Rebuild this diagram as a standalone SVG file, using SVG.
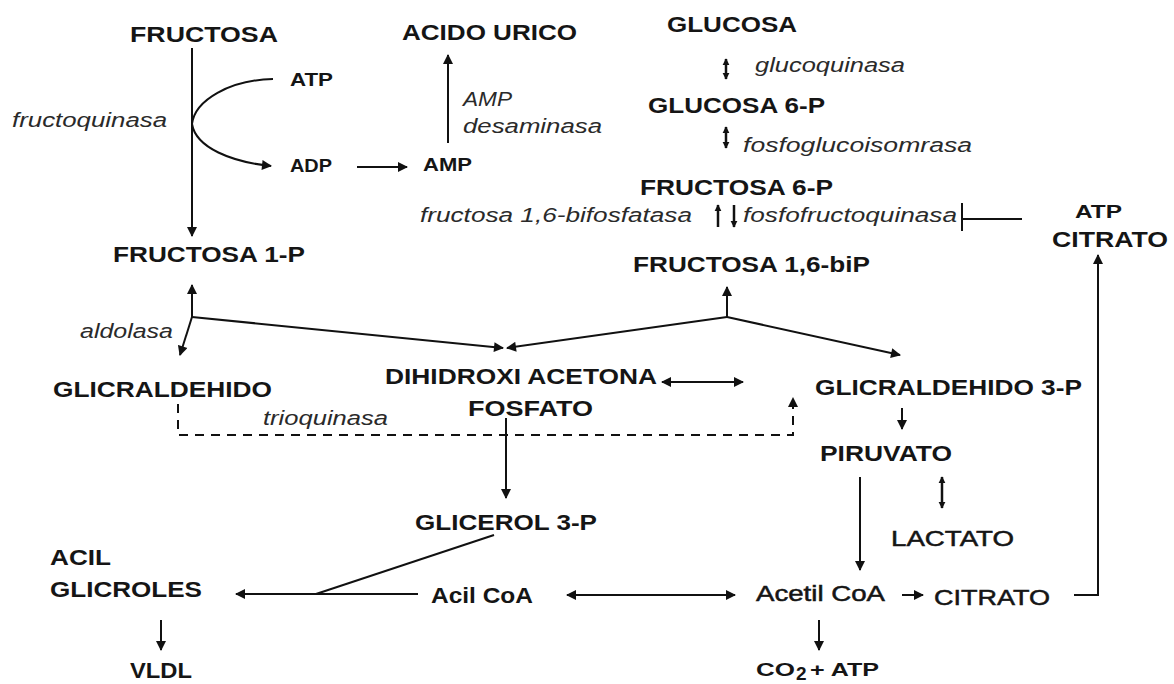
<svg xmlns="http://www.w3.org/2000/svg" width="1174" height="684" viewBox="0 0 1174 684">
<defs>
<marker id="ah" viewBox="0 0 10 10" refX="9" refY="5" markerWidth="11" markerHeight="10" markerUnits="userSpaceOnUse" orient="auto-start-reverse">
<path d="M0,0 L10,5 L0,10 z" fill="#111"/>
</marker>
<marker id="sm" viewBox="0 0 10 10" refX="9" refY="5" markerWidth="7" markerHeight="8" markerUnits="userSpaceOnUse" orient="auto-start-reverse">
<path d="M0,0 L10,5 L0,10 z" fill="#111"/>
</marker>
<style>
.b{font-family:"Liberation Sans",Arial,sans-serif;font-weight:bold;font-size:22px;fill:#151515}
.s{font-family:"Liberation Sans",Arial,sans-serif;font-weight:bold;font-size:19px;fill:#151515}
.n{font-family:"Liberation Sans",Arial,sans-serif;font-weight:normal;font-size:22px;fill:#151515;stroke:#151515;stroke-width:0.5}
.i{font-family:"Liberation Sans",Arial,sans-serif;font-style:italic;font-size:20px;fill:#2a2a2a}
.ln{fill:none;stroke:#111;stroke-width:2}
.ar{fill:none;stroke:#111;stroke-width:2;marker-end:url(#ah)}
.da{fill:none;stroke:#111;stroke-width:2;marker-end:url(#ah);marker-start:url(#ah)}
.sd{fill:none;stroke:#111;stroke-width:2.5;marker-end:url(#sm);marker-start:url(#sm)}
.sa{fill:none;stroke:#111;stroke-width:2.5;marker-end:url(#sm)}
.dash{fill:none;stroke:#111;stroke-width:2;stroke-dasharray:9,7;marker-end:url(#ah)}
</style>
</defs>
<rect width="1174" height="684" fill="#ffffff"/>
<g id="connectors">
<line class="ar" x1="192" y1="48" x2="192" y2="236"/>
<path class="ar" d="M273,79 C230,80 195,100 192,124 C196,148 232,162 271,166"/>
<line class="ar" x1="357" y1="167" x2="407" y2="167"/>
<line class="ar" x1="448" y1="143" x2="448" y2="55"/>
<line class="sd" x1="726" y1="59" x2="726" y2="79"/>
<line class="sd" x1="726" y1="127" x2="726" y2="148"/>
<line class="sa" x1="718" y1="227" x2="718" y2="205"/>
<line class="sa" x1="734" y1="205" x2="734" y2="227"/>
<line class="ln" x1="962" y1="203" x2="962" y2="231"/>
<line class="ln" x1="962" y1="219" x2="1022" y2="219"/>
<polyline class="ar" points="1074,595 1098,595 1098,255"/>
<line class="ar" x1="192" y1="317" x2="192" y2="285"/>
<line class="ar" x1="192" y1="317" x2="180" y2="355"/>
<line class="ar" x1="192" y1="317" x2="503" y2="348"/>
<line class="ar" x1="727" y1="317" x2="727" y2="287"/>
<line class="ar" x1="727" y1="317" x2="507" y2="348"/>
<line class="ar" x1="727" y1="317" x2="900" y2="355"/>
<line class="da" x1="662" y1="382" x2="743" y2="382"/>
<path class="dash" d="M178,404 V435 H793 V398"/>
<line class="ar" x1="902" y1="408" x2="902" y2="429"/>
<line class="ar" x1="506" y1="418" x2="506" y2="498"/>
<line class="ar" x1="860" y1="477" x2="860" y2="570"/>
<line class="sd" x1="942" y1="477" x2="942" y2="508"/>
<line class="da" x1="567" y1="595" x2="735" y2="595"/>
<line class="ar" x1="418" y1="594" x2="236" y2="594"/>
<line class="ln" x1="494" y1="535" x2="316" y2="594"/>
<line class="ar" x1="161" y1="620" x2="161" y2="650"/>
<line class="ar" x1="902" y1="595" x2="923" y2="595"/>
<line class="ar" x1="819" y1="620" x2="819" y2="650"/>
</g>
<g id="fructosa"><text class="b" x="130" y="42" textLength="148" lengthAdjust="spacingAndGlyphs">FRUCTOSA</text></g>
<g id="atp-top"><text class="s" x="290" y="86" textLength="43" lengthAdjust="spacingAndGlyphs">ATP</text></g>
<g id="adp"><text class="s" x="290" y="172" textLength="42" lengthAdjust="spacingAndGlyphs">ADP</text></g>
<g id="amp"><text class="s" x="423" y="171" textLength="49" lengthAdjust="spacingAndGlyphs">AMP</text></g>
<g id="fructoquinasa"><text class="i" x="12" y="127" textLength="155" lengthAdjust="spacingAndGlyphs">fructoquinasa</text></g>
<g id="acido-urico"><text class="b" x="402" y="40" textLength="175" lengthAdjust="spacingAndGlyphs">ACIDO URICO</text></g>
<g id="amp-desaminasa">
<text class="i" x="463" y="106" textLength="49" lengthAdjust="spacingAndGlyphs">AMP</text>
<text class="i" x="463" y="133" textLength="139" lengthAdjust="spacingAndGlyphs">desaminasa</text>
</g>
<g id="glucosa"><text class="b" x="667" y="32" textLength="130" lengthAdjust="spacingAndGlyphs">GLUCOSA</text></g>
<g id="glucoquinasa"><text class="i" x="755" y="72" textLength="150" lengthAdjust="spacingAndGlyphs">glucoquinasa</text></g>
<g id="glucosa6p"><text class="b" x="648" y="113" textLength="177" lengthAdjust="spacingAndGlyphs">GLUCOSA 6-P</text></g>
<g id="fosfoglucoisomrasa"><text class="i" x="743" y="152" textLength="229" lengthAdjust="spacingAndGlyphs">fosfoglucoisomrasa</text></g>
<g id="fructosa6p"><text class="b" x="640" y="195" textLength="193" lengthAdjust="spacingAndGlyphs">FRUCTOSA 6-P</text></g>
<g id="bifosfatasa"><text class="i" x="420" y="222" textLength="272" lengthAdjust="spacingAndGlyphs">fructosa 1,6-bifosfatasa</text></g>
<g id="fosfofructoquinasa"><text class="i" x="743" y="222" textLength="214" lengthAdjust="spacingAndGlyphs">fosfofructoquinasa</text></g>
<g id="atp-citrato">
<text class="s" x="1075" y="218" textLength="47" lengthAdjust="spacingAndGlyphs">ATP</text>
<text class="b" x="1052" y="247" textLength="116" lengthAdjust="spacingAndGlyphs">CITRATO</text>
</g>
<g id="fructosa16bip"><text class="b" x="633" y="272" textLength="237" lengthAdjust="spacingAndGlyphs">FRUCTOSA 1,6-biP</text></g>
<g id="fructosa1p"><text class="b" x="113" y="262" textLength="192" lengthAdjust="spacingAndGlyphs">FRUCTOSA 1-P</text></g>
<g id="aldolasa"><text class="i" x="80" y="338" textLength="93" lengthAdjust="spacingAndGlyphs">aldolasa</text></g>
<g id="glicraldehido"><text class="b" x="53" y="397" textLength="219" lengthAdjust="spacingAndGlyphs">GLICRALDEHIDO</text></g>
<g id="trioquinasa"><text class="i" x="263" y="425" textLength="125" lengthAdjust="spacingAndGlyphs">trioquinasa</text></g>
<g id="dhap">
<text class="b" x="385" y="384" textLength="272" lengthAdjust="spacingAndGlyphs">DIHIDROXI ACETONA</text>
<text class="b" x="468" y="416" textLength="125" lengthAdjust="spacingAndGlyphs">FOSFATO</text>
</g>
<g id="glicraldehido3p"><text class="b" x="815" y="395" textLength="267" lengthAdjust="spacingAndGlyphs">GLICRALDEHIDO 3-P</text></g>
<g id="piruvato"><text class="b" x="820" y="461" textLength="132" lengthAdjust="spacingAndGlyphs">PIRUVATO</text></g>
<g id="lactato"><text class="n" x="891" y="546" textLength="123" lengthAdjust="spacingAndGlyphs">LACTATO</text></g>
<g id="glicerol3p"><text class="b" x="415" y="530" textLength="182" lengthAdjust="spacingAndGlyphs">GLICEROL 3-P</text></g>
<g id="acilglicroles">
<text class="b" x="50" y="565" textLength="61" lengthAdjust="spacingAndGlyphs">ACIL</text>
<text class="b" x="50" y="597" textLength="152" lengthAdjust="spacingAndGlyphs">GLICROLES</text>
</g>
<g id="vldl"><text class="b" x="130" y="678" textLength="62" lengthAdjust="spacingAndGlyphs">VLDL</text></g>
<g id="acilcoa"><text class="b" x="431" y="603" textLength="102" lengthAdjust="spacingAndGlyphs">Acil CoA</text></g>
<g id="acetilcoa"><text class="n" x="756" y="601" textLength="129" lengthAdjust="spacingAndGlyphs">Acetil CoA</text></g>
<g id="citrato-bottom"><text class="n" x="934" y="605" textLength="116" lengthAdjust="spacingAndGlyphs">CITRATO</text></g>
<g id="co2-atp">
<text class="s" x="756" y="676" textLength="39" lengthAdjust="spacingAndGlyphs">CO</text>
<text class="s" x="796" y="680" font-size="11">2</text>
<text class="s" x="810" y="676" textLength="69" lengthAdjust="spacingAndGlyphs">+ ATP</text>
</g>
</svg>
